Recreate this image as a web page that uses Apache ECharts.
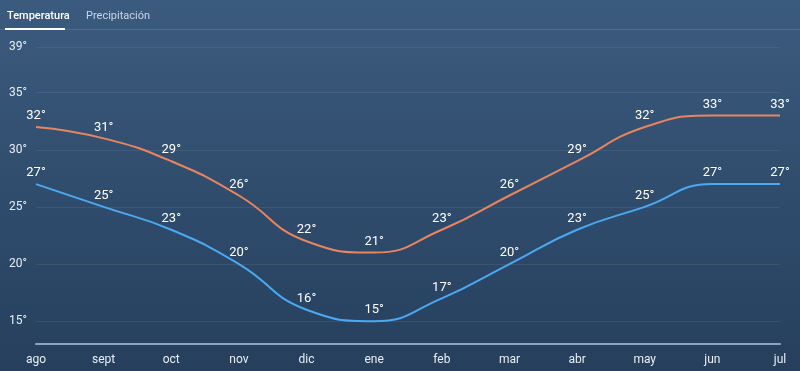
<!DOCTYPE html>
<html><head><meta charset="utf-8">
<script src="https://cdn.jsdelivr.net/npm/echarts@6/dist/echarts.min.js"></script>
<style>html,body{margin:0;padding:0;}#c{width:800px;height:371px;}</style>
</head><body><div id="c"></div>
<script>
const months = ['ago','sept','oct','nov','dic','ene','feb','mar','abr','may','jun','jul'];
const maxTemp = [32,31,29,26,22,21,23,26,29,32,33,33];
const minTemp = [27,25,23,20,16,15,17,20,23,25,27,27];
const yTicks = [15,20,25,30,35,39];
const tabs = ['Temperatura','Precipitación'];

const chart = echarts.init(document.getElementById('c'));
const font = 'Roboto, "Liberation Sans", sans-serif';
const lbl = {show:true, position:'top', color:'#ffffff', fontSize:13, distance:4, formatter: p => p.value + '°'};
chart.setOption({
  animation: false,
  backgroundColor: {type:'linear',x:0,y:0,x2:0,y2:1,colorStops:[{offset:0,color:'#3b5b7e'},{offset:1,color:'#263f5d'}]},
  textStyle: {fontFamily: font},
  graphic: [
    {type:'rect', shape:{x:0,y:29,width:800,height:1}, style:{fill:'rgba(255,255,255,0.12)'}},
    {type:'text', left:7, top:11, style:{text:tabs[0], fill:'#ffffff', font:'500 11px ' + font}},
    {type:'rect', shape:{x:5,y:28,width:60,height:2}, style:{fill:'#ffffff'}},
    {type:'text', left:86, top:11, style:{text:tabs[1], fill:'#c9d6e6', font:'11px ' + font}}
  ],
  grid: {left:36, right:20, top:47, bottom:27},
  xAxis: {
    type:'category', data: months, boundaryGap:false,
    axisLine:{lineStyle:{color:'#8ea3bd', width:2}},
    axisTick:{show:false},
    axisLabel:{color:'#e8eef5', fontSize:12, margin:10}
  },
  yAxis: {
    type:'value', min:13, max:39,
    axisLine:{show:false}, axisTick:{show:false, customValues: yTicks},
    axisLabel:{color:'#e8eef5', fontSize:12, margin:9, customValues: yTicks, formatter: v => v + '°'},
    splitLine:{show:true, lineStyle:{color:'rgba(255,255,255,0.07)'}}
  },
  series: [
    {type:'line', data:maxTemp, smooth:true, symbol:'circle', symbolSize:1, showSymbol:true,
     lineStyle:{color:'#e8855f', width:2}, itemStyle:{color:'rgba(0,0,0,0)'}, label:lbl},
    {type:'line', data:minTemp, smooth:true, symbol:'circle', symbolSize:1, showSymbol:true,
     lineStyle:{color:'#4aa9f2', width:2}, itemStyle:{color:'rgba(0,0,0,0)'}, label:lbl}
  ]
});
</script></body></html>
